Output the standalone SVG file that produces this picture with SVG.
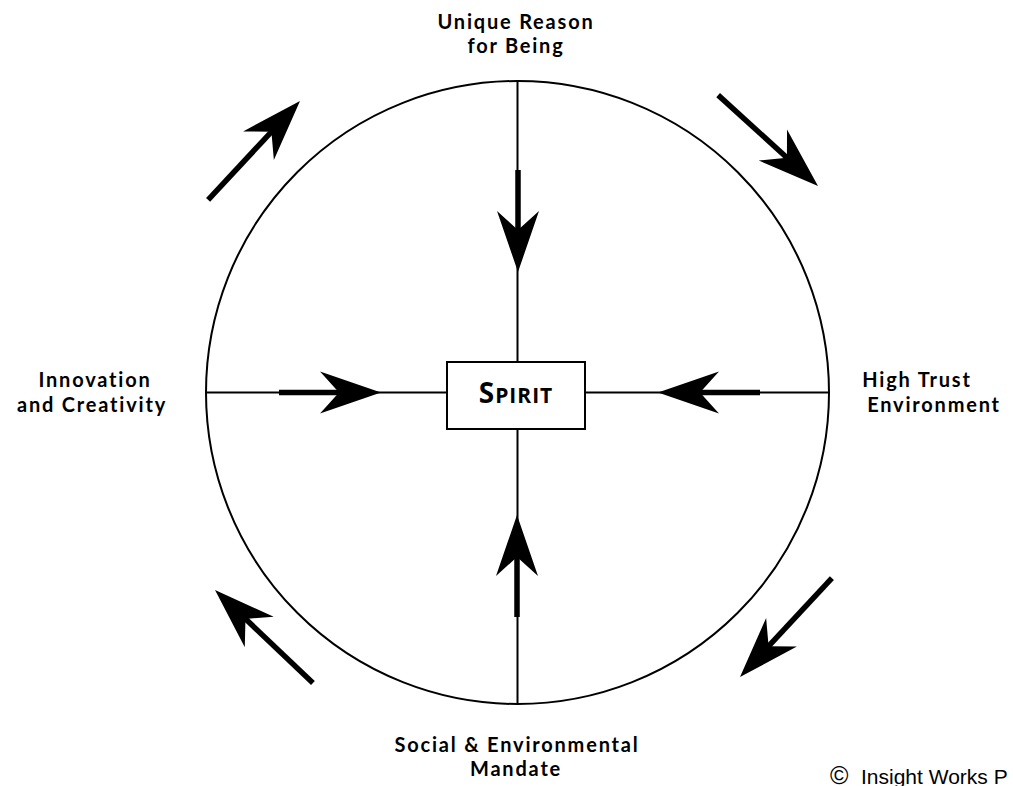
<svg xmlns="http://www.w3.org/2000/svg" width="1013" height="786" viewBox="0 0 1013 786">
<style>
.ln{stroke:#000;stroke-width:2;fill:none}
.lbl{font-family:Lato,"Open Sans",sans-serif;font-weight:bold;font-size:20px;letter-spacing:1.8px;fill:#000;text-anchor:middle}
.cp{font-family:"Liberation Sans",Arial,sans-serif;font-size:21px;fill:#000}
</style>
<defs>
<g id="arr">
<rect x="-135" y="-2.75" width="96" height="5.5" fill="#000"/>
<polygon points="0,0 -61,-21 -42,0 -61,21" fill="#000"/>
</g>
<g id="arrS">
<rect x="-102" y="-2.75" width="63" height="5.5" fill="#000"/>
<polygon points="0,0 -61,-21 -42,0 -61,21" fill="#000"/>
</g>
</defs>
<rect width="1013" height="786" fill="#fff"/>
<g id="connectors">
<circle class="ln" cx="517.5" cy="392.5" r="311.5"/>
<line class="ln" x1="517.5" y1="81" x2="517.5" y2="362"/>
<line class="ln" x1="517.5" y1="429" x2="517.5" y2="704"/>
<line class="ln" x1="206" y1="392.5" x2="447" y2="392.5"/>
<line class="ln" x1="585" y1="392.5" x2="829" y2="392.5"/>
<use href="#arrS" transform="translate(518,272) rotate(90)"/>
<use href="#arrS" transform="translate(381,392.5)"/>
<use href="#arrS" transform="translate(658,392.5) rotate(180)"/>
<use href="#arrS" transform="translate(517,515) rotate(-90)"/>
<use href="#arr" transform="translate(300,101) rotate(-47.1)"/>
<use href="#arr" transform="translate(818,186) rotate(42.3)"/>
<use href="#arr" transform="translate(740,677) rotate(132.9)"/>
<use href="#arr" transform="translate(215,590) rotate(-136.5)"/>
</g>
<g id="spirit">
<rect x="447" y="362" width="138" height="67" fill="#fff" stroke="#000" stroke-width="2"/>
<text x="516" y="403" font-family="'Open Sans','Noto Sans',sans-serif" font-weight="bold" fill="#000" text-anchor="middle" letter-spacing="1"><tspan font-size="28">S</tspan><tspan font-size="21">PIRIT</tspan></text>
</g>
<g id="top"><text class="lbl" x="516" y="29">Unique Reason</text><text class="lbl" x="516" y="53">for Being</text></g>
<g id="left"><text class="lbl" x="95" y="387">Innovation</text><text class="lbl" x="92" y="412">and Creativity</text></g>
<g id="right"><text class="lbl" x="917" y="387">High Trust</text><text class="lbl" x="934" y="412">Environment</text></g>
<g id="bottom"><text class="lbl" x="517" y="752">Social &amp; Environmental</text><text class="lbl" x="516" y="776">Mandate</text></g>
<text class="cp" y="784"><tspan x="830" font-size="25">©</tspan><tspan x="861">Insight Works P</tspan></text>
</svg>
